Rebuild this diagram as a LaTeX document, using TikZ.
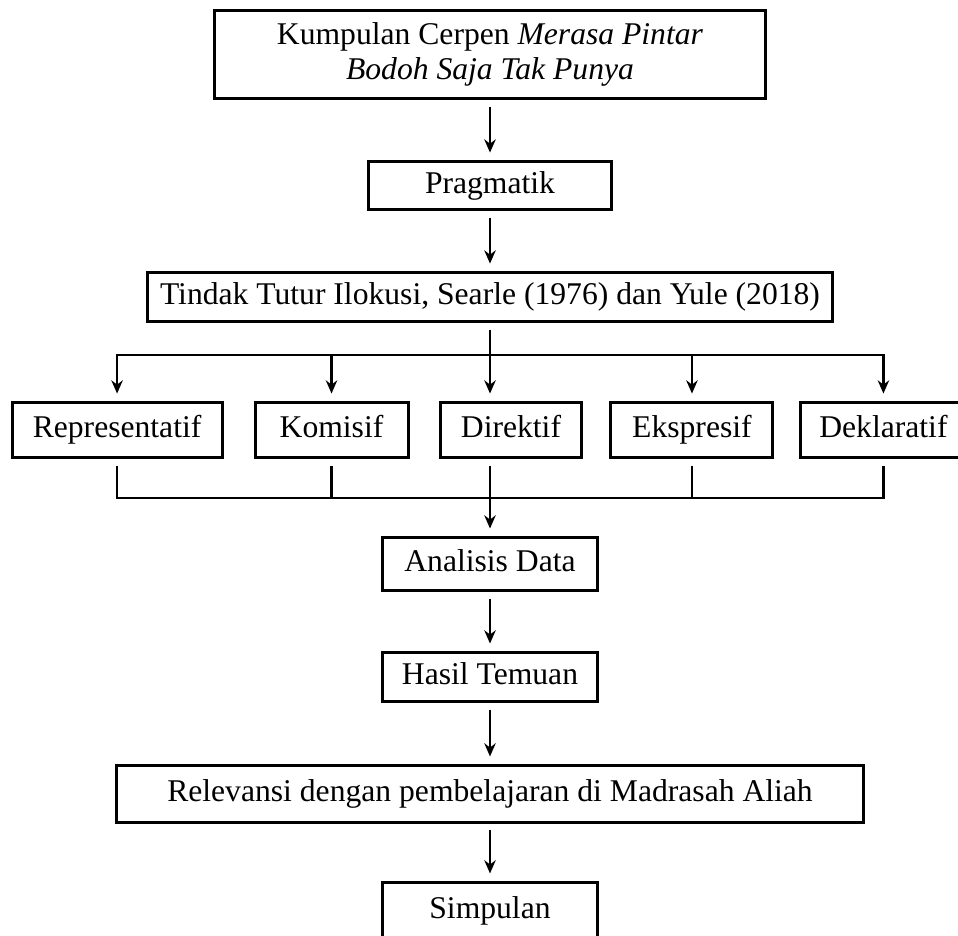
\documentclass[tikz,border=0pt]{standalone}
\usepackage{fontspec}
\setmainfont{Liberation Serif}
\usetikzlibrary{positioning, arrows.meta}

\begin{document}
\begin{tikzpicture}[x=0.02cm, y=-0.02cm, on grid, >={Stealth[length=7.5pt, width=6.5pt]},
    kotak/.style={draw, line width=1.7pt, inner sep=0pt, align=center, minimum height=0.98cm, font=\fontsize{18}{19.5}\selectfont},
    box/.style={kotak, text height=12.5pt, text depth=4pt},
    kategori/.style={box, minimum height=1.1cm},
    arrow/.style={->, line width=1.5pt, shorten >=4.5pt},
    gap/.style={shorten <=3.5pt}]
  \useasboundingbox (0,0) rectangle (958,936);
  \clip (0,0) rectangle (958,936);
  \node[kotak, minimum width=11.04cm, minimum height=1.78cm] (kumpulan) at (490,54.5) {Kumpulan Cerpen \textit{Merasa Pintar}\\ \textit{Bodoh Saja Tak Punya}};
  \node[box, below=2.63cm of kumpulan, minimum width=4.88cm, minimum height=0.96cm] (pragmatik) {Pragmatik};
  \node[box, below=2.23cm of pragmatik, minimum width=13.7cm] (tindak) {Tindak Tutur Ilokusi, Searle (1976) dan Yule (2018)};
  \node[kategori, below=2.66cm of tindak, xshift=0.42cm, minimum width=2.84cm] (direktif) {Direktif};
  \node[kategori, left=3.59cm of direktif, minimum width=3.06cm] (komisif) {Komisif};
  \node[kategori, left=4.29cm of komisif, minimum width=4.2cm] (representatif) {Representatif};
  \node[kategori, right=3.62cm of direktif, minimum width=3.24cm] (ekspresif) {Ekspresif};
  \node[kategori, right=3.83cm of ekspresif, minimum width=3.3cm] (deklaratif) {Deklaratif};
  \node[box, below=5.34cm of tindak, minimum width=4.32cm, minimum height=1.06cm] (analisis) {Analisis Data};
  \node[box, below=2.26cm of analisis, minimum width=4.32cm] (hasil) {Hasil Temuan};
  \node[box, below=2.34cm of hasil, minimum width=14.96cm, minimum height=1.14cm] (relevansi) {Relevansi dengan pembelajaran di Madrasah Aliah};
  \node[box, below=2.33cm of relevansi, minimum width=4.32cm, minimum height=1.12cm] (simpulan) {Simpulan};
  \coordinate[below=1.15cm of tindak] (split);
  \coordinate[above=1.33cm of analisis] (merge);

  \draw[arrow, gap] (kumpulan) -- (pragmatik);
  \draw[arrow, gap] (pragmatik) -- (tindak);
  \draw[arrow, gap] (tindak) -- (tindak |- direktif.north);
  \draw[<->, line width=1.5pt, shorten <=4.5pt, shorten >=4.5pt] (representatif.north) |- (split) -| (deklaratif.north);
  \draw[arrow] (split -| komisif) -- (komisif);
  \draw[arrow] (split -| ekspresif) -- (ekspresif);
  \draw[line width=1.5pt, shorten <=3.5pt, shorten >=3.5pt] (representatif.south) |- (merge) -| (deklaratif.south);
  \draw[line width=1.5pt, gap] (komisif) -- (merge -| komisif);
  \draw[line width=1.5pt, gap] (ekspresif) -- (merge -| ekspresif);
  \draw[arrow, gap] (direktif.south -| merge) -- (analisis);
  \draw[arrow, gap] (analisis) -- (hasil);
  \draw[arrow, gap] (hasil) -- (relevansi);
  \draw[arrow, gap] (relevansi) -- (simpulan);
\end{tikzpicture}
\end{document}
